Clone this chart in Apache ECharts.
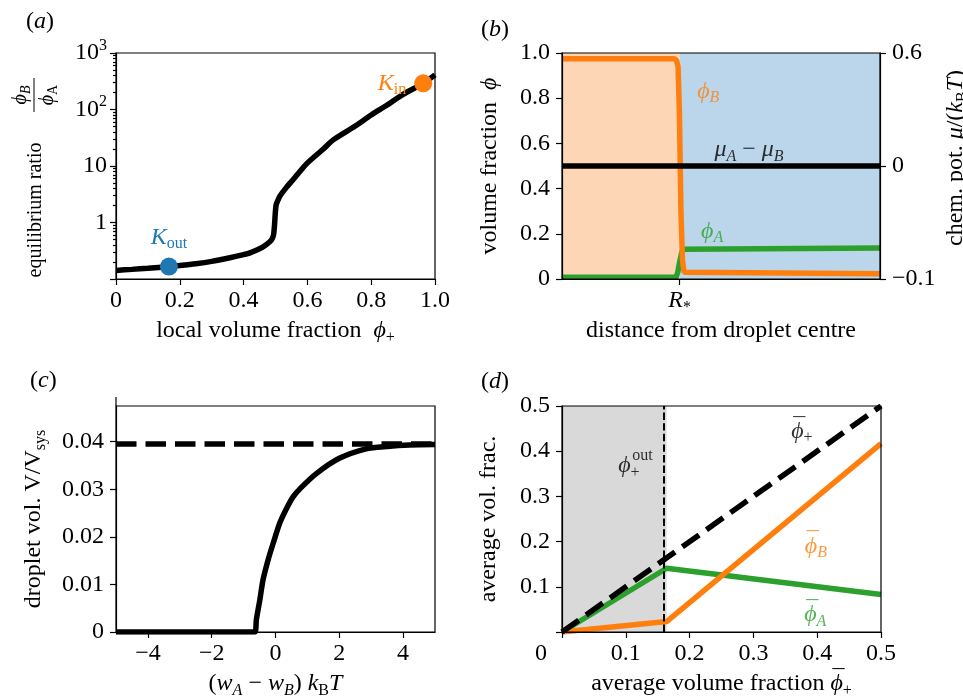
<!DOCTYPE html>
<html><head><meta charset="utf-8">
<script src="https://cdn.jsdelivr.net/npm/echarts@6/dist/echarts.min.js"></script>
<style>html,body{margin:0;padding:0;background:#fff}#c{width:963px;height:699px}</style>
</head><body><div id="c"></div>
<script>
// ================= DATA =================
// (a) equilibrium ratio vs local volume fraction
const phiLocal = [0, 0.05, 0.1, 0.166, 0.2, 0.25, 0.3, 0.357, 0.4, 0.42, 0.461, 0.483, 0.49, 0.494, 0.497, 0.499, 0.502, 0.508, 0.514, 0.533, 0.555, 0.598, 0.65, 0.681, 0.75, 0.8, 0.85, 0.9, 0.963, 1.0];
const ratioEq  = [0.142, 0.148, 0.155, 0.166, 0.173, 0.186, 0.205, 0.238, 0.27, 0.29, 0.37, 0.46, 0.52, 0.61, 0.91, 1.37, 2.05, 2.5, 2.95, 4.1, 5.7, 11, 20, 29, 51, 80, 120, 186, 290, 410];
const kOutPoint = [0.166, 0.166];
const kInPoint  = [0.963, 290];
const ratioMajorLabels = {1: '1', 10: '10', 100: '10{sup|2}', 1000: '10{sup|3}'};
const ratioMinor = [0.2,0.3,0.4,0.5,0.6,0.7,0.8,0.9, 2,3,4,5,6,7,8,9, 20,30,40,50,60,70,80,90, 200,300,400,500,600,700,800,900];

// (b) profiles across droplet interface
const rStar = 0.37;
const rB = [0, 0.352, 0.36, 0.365, 0.369, 0.374, 0.379, 0.384, 0.39, 1];
const phiBProfile = [0.975, 0.975, 0.968, 0.94, 0.75, 0.3, 0.08, 0.03, 0.023, 0.023];
const rA = [0, 0.359, 0.364, 0.37, 0.376, 0.381, 0.387, 1];
const phiAProfile = [0.008, 0.008, 0.03, 0.075, 0.115, 0.132, 0.137, 0.137];
const rMu = [0, 1];
const muLevel = [0.5, 0.5];
const chemTickPos = [0, 0.5, 1];
const chemTickLabels = ['\u22120.1', '0', '0.6'];

// (c) droplet volume vs (wA - wB)
const wDiff   = [-5, -0.65, -0.6, -0.49, -0.39, -0.23, -0.07, 0.134, 0.35, 0.55, 0.81, 1.28, 2.0, 2.84, 3.5, 4.2, 5.0];
const dropVol = [0, 0, 0.0026, 0.0068, 0.011, 0.0152, 0.0187, 0.0229, 0.026, 0.0284, 0.0304, 0.0333, 0.0365, 0.0385, 0.039, 0.0393, 0.0394];
const wSat = [-5, 5];
const volSat = [0.0395, 0.0395];
const wTicks = [-4, -2, 0, 2, 4];
const volTicks = [0, 0.01, 0.02, 0.03, 0.04];

// (d) average fractions
const phiAvg = [0, 0.164, 0.5];
const phiABar = [0, 0.141, 0.083];
const phiBBar = [0, 0.023, 0.417];
const phiPlusX = [0, 0.5];
const phiPlusY = [0, 0.5];
const phiOut = 0.164;

// ================= STYLE =================
const F = "'Liberation Serif', 'DejaVu Serif', serif";
const FS = 24, SFS = 16;
const BLUE = '#1f77b4', ORANGE = '#ff7f0e', GREEN = '#2ca02c';
const LW = 5.5;

// measure macron width so the overbar can be placed over the next glyph
const _cv = document.createElement('canvas').getContext('2d');
function textW(font, t) { _cv.font = font; return _cv.measureText(t).width; }

function rich(color, fs, sfs) {
  color = color || '#000'; fs = fs || FS; sfs = sfs || SFS;
  const dn = Math.round(fs * 0.54), up = Math.round(fs * 0.62);
  const bw = textW(fs + 'px ' + F, '\u00af'), dx = 2;
  return {
    i:   {fontStyle: 'italic', fontFamily: F, fontSize: fs, color: color},
    sub: {fontFamily: F, fontSize: sfs, lineHeight: sfs, padding: [dn, 0, 0, 0], color: color},
    isub:{fontFamily: F, fontSize: sfs, lineHeight: sfs, padding: [dn, 0, 0, 0], fontStyle: 'italic', color: color},
    sup: {fontFamily: F, fontSize: sfs, lineHeight: sfs, padding: [0, 0, up, 0], color: color},
    bar: {fontFamily: F, fontSize: fs, lineHeight: fs, padding: [0, -(bw + dx), 9, dx], color: color}
  };
}
function zrich(color, fs, sfs) {
  const r = rich(color, fs, sfs), out = {};
  for (const k in r) { const s = Object.assign({}, r[k]); s.fill = s.color; delete s.color; out[k] = s; }
  return out;
}
function merge(a, b) {
  const o = Object.assign({}, a);
  for (const k in b) {
    const v = b[k];
    if (v && typeof v === 'object' && !Array.isArray(v) && o[k] && typeof o[k] === 'object' && !Array.isArray(o[k])) o[k] = merge(o[k], v);
    else o[k] = v;
  }
  return o;
}
function axisBase(o) {
  return merge({
    type: 'value',
    axisLine: {show: true, onZero: false, lineStyle: {color: '#000', width: 1.2}},
    axisTick: {show: true, inside: false, length: 6, lineStyle: {color: '#000', width: 1.2}},
    axisLabel: {color: '#000', fontFamily: F, fontSize: FS, margin: 10, rich: rich()},
    splitLine: {show: false},
    nameLocation: 'middle',
    nameTextStyle: {color: '#000', fontFamily: F, fontSize: FS, rich: rich()},
    nameMoveOverlap: false,
    z: 10
  }, o);
}
const zip = (xs, ys) => xs.map((x, i) => [x, ys[i]]);
const fmt1 = v => v === 0 ? '0' : v.toFixed(1);
const minus = v => v < 0 ? '\u2212' + (-v) : String(v);
const OB = '{bar|\u00af}';

function note(xi, yi, pt, text, color, extra) {
  return {
    type: 'scatter', xAxisIndex: xi, yAxisIndex: yi, data: [pt], symbolSize: 0, silent: true, z: 20,
    label: Object.assign({show: true, position: 'inside', formatter: text, color: color,
      fontFamily: F, fontSize: FS, rich: rich(color)}, extra || {})
  };
}

const gridBase = {show: true, borderColor: '#000', borderWidth: 1.2, backgroundColor: 'transparent',
  containLabel: false, outerBoundsMode: 'none', z: 10};

const option = {
  animation: false,
  backgroundColor: '#fff',
  textStyle: {fontFamily: F, fontSize: FS, color: '#000'},
  grid: [
    Object.assign({left: 116, top: 53, width: 319, height: 226}, gridBase),
    Object.assign({left: 562, top: 53, width: 318, height: 226}, gridBase),
    Object.assign({left: 116, top: 406, width: 319, height: 226}, gridBase),
    Object.assign({left: 562, top: 406, width: 319, height: 226}, gridBase)
  ],
  xAxis: [
    axisBase({gridIndex: 0, min: 0, max: 1, interval: 0.2, axisLabel: {formatter: fmt1},
      name: 'local volume fraction  {i|\u03d5}{sub|+}', nameGap: 40}),
    axisBase({gridIndex: 1, min: 0, max: 1, axisTick: {customValues: [rStar]},
      axisLabel: {customValues: [rStar], formatter: () => '{i|R}{sub|*}'},
      name: 'distance from droplet centre', nameGap: 40}),
    axisBase({gridIndex: 2, min: -5, max: 5, axisTick: {customValues: wTicks},
      axisLabel: {customValues: wTicks, formatter: minus},
      name: '({i|w}{isub|A} \u2212 {i|w}{isub|B}) {i|k}{sub|B}{i|T}', nameGap: 40}),
    axisBase({gridIndex: 3, min: 0, max: 0.5, interval: 0.1,
      axisLabel: {formatter: v => v === 0 ? '{z|0}' : v.toFixed(1),
        rich: Object.assign(rich(), {z: {fontFamily: F, fontSize: FS, color: '#000', padding: [0, 42, 0, 0]}})},
      name: 'average volume fraction ' + OB + '{i|\u03d5}{sub|+}', nameGap: 40})
  ],
  yAxis: [
    axisBase({type: 'log', logBase: 10, gridIndex: 0, min: 0.1, max: 1000,
      axisLabel: {margin: 9, formatter: v => ratioMajorLabels[Math.round(v * 1000) / 1000] || ''}}),
    axisBase({gridIndex: 0, position: 'left', min: -1, max: 3, axisLine: {show: false}, axisLabel: {show: false},
      axisTick: {length: 3, customValues: ratioMinor.map(Math.log10)}}),
    axisBase({gridIndex: 1, min: 0, max: 1, interval: 0.2, axisLabel: {formatter: fmt1, margin: 12},
      name: 'volume fraction  {i|\u03d5}', nameGap: 60, nameRotate: 90}),
    axisBase({gridIndex: 1, position: 'right', min: 0, max: 1,
      axisTick: {customValues: chemTickPos},
      axisLabel: {customValues: chemTickPos, margin: 12,
        formatter: v => chemTickLabels[chemTickPos.indexOf(v)]},
      name: 'chem. pot. {i|\u03bc}/({i|k}{sub|B}{i|T})', nameGap: 64, nameRotate: 90,
      nameTextStyle: {padding: [0, 0, 0, 16]}}),
    axisBase({gridIndex: 2, min: 0, max: 0.0475, axisTick: {customValues: volTicks},
      axisLabel: {customValues: volTicks, margin: 12, formatter: v => v === 0 ? '0' : v.toFixed(2)},
      name: 'droplet vol. V/V{sub|sys}', nameGap: 70, nameRotate: 90}),
    axisBase({gridIndex: 3, min: 0, max: 0.5, interval: 0.1,
      axisLabel: {margin: 12, formatter: v => v === 0 ? '' : v.toFixed(1)},
      name: 'average vol. frac.', nameGap: 61, nameRotate: 90})
  ],
  series: [
    // ---- (a)
    {type: 'line', xAxisIndex: 0, yAxisIndex: 0, data: zip(phiLocal, ratioEq), symbol: 'none',
      smooth: 0.25, lineStyle: {color: '#000', width: LW}, z: 3},
    {type: 'scatter', xAxisIndex: 0, yAxisIndex: 0, data: [kOutPoint], symbolSize: 18, z: 4,
      itemStyle: {color: BLUE, opacity: 1},
      label: {show: true, position: 'top', distance: 8, formatter: '{i|K}{sub|out}', color: BLUE, rich: rich(BLUE)}},
    {type: 'scatter', xAxisIndex: 0, yAxisIndex: 0, data: [kInPoint], symbolSize: 18, z: 4,
      itemStyle: {color: ORANGE, opacity: 1},
      label: {show: true, position: 'left', distance: 8, formatter: '{i|K}{sub|in}', color: ORANGE, rich: rich(ORANGE)}},
    // ---- (b)
    {type: 'line', xAxisIndex: 1, yAxisIndex: 2, data: zip(rA, phiAProfile), symbol: 'none',
      lineStyle: {color: GREEN, width: LW}, z: 3,
      markArea: {silent: true, data: [
        [{xAxis: 0, itemStyle: {color: '#fdd7b5'}}, {xAxis: rStar}],
        [{xAxis: rStar, itemStyle: {color: '#bbd6ea'}}, {xAxis: 1}]
      ]}},
    {type: 'line', xAxisIndex: 1, yAxisIndex: 2, data: zip(rB, phiBProfile), symbol: 'none',
      lineStyle: {color: ORANGE, width: LW}, z: 4},
    {type: 'line', xAxisIndex: 1, yAxisIndex: 2, data: zip(rMu, muLevel), symbol: 'none',
      lineStyle: {color: '#000', width: LW}, z: 5},
    note(1, 2, [0.46, 0.83], '{i|\u03d5}{isub|B}', ORANGE),
    note(1, 2, [0.588, 0.571], '{i|\u03bc}{isub|A} \u2212 {i|\u03bc}{isub|B}', '#000'),
    note(1, 2, [0.472, 0.209], '{i|\u03d5}{isub|A}', GREEN),
    // ---- (c)
    {type: 'line', xAxisIndex: 2, yAxisIndex: 4, data: zip(wSat, volSat), symbol: 'none',
      lineStyle: {color: '#000', width: LW, type: [20.5, 9], cap: 'butt'}, z: 3},
    {type: 'line', xAxisIndex: 2, yAxisIndex: 4, data: zip(wDiff, dropVol), symbol: 'none',
      smooth: 0.25, lineStyle: {color: '#000', width: LW}, z: 4},
    // ---- (d)
    {type: 'line', xAxisIndex: 3, yAxisIndex: 5, data: zip(phiAvg, phiABar), symbol: 'none',
      lineStyle: {color: GREEN, width: LW}, z: 3,
      markArea: {silent: true, data: [[{xAxis: 0, itemStyle: {color: '#d9d9d9'}}, {xAxis: phiOut}]]}},
    {type: 'line', xAxisIndex: 3, yAxisIndex: 5, data: zip(phiAvg, phiBBar), symbol: 'none',
      lineStyle: {color: ORANGE, width: LW}, z: 4},
    {type: 'line', xAxisIndex: 3, yAxisIndex: 5, data: zip(phiPlusX, phiPlusY), symbol: 'none',
      lineStyle: {color: '#000', width: LW, type: [20.5, 9], cap: 'butt'}, z: 5,
      markLine: {silent: true, symbol: 'none', label: {show: false},
        lineStyle: {color: '#000', width: 2, type: [7.4, 3.2]}, data: [{xAxis: phiOut}]}},
    note(3, 5, [0.376, 0.443], OB + '{i|\u03d5}{sub|+}', '#000'),
    note(3, 5, [0.088, 0.367], '{i|\u03d5}{sub|+}', '#000', {align: 'left'}),
    note(3, 5, [0.088, 0.367], 'out', '#000', {align: 'left', offset: [14, -10], fontSize: SFS}),
    note(3, 5, [0.398, 0.189], OB + '{i|\u03d5}{isub|B}', ORANGE),
    note(3, 5, [0.397, 0.038], OB + '{i|\u03d5}{isub|A}', GREEN)
  ],
  graphic: [
    {type: 'text', x: 26, y: 22, style: {text: '({i|a})', fontFamily: F, fontSize: FS, fill: '#000', verticalAlign: 'middle', rich: zrich()}},
    {type: 'text', x: 481, y: 30, style: {text: '({i|b})', fontFamily: F, fontSize: FS, fill: '#000', verticalAlign: 'middle', rich: zrich()}},
    {type: 'text', x: 30, y: 381, style: {text: '({i|c})', fontFamily: F, fontSize: FS, fill: '#000', verticalAlign: 'middle', rich: zrich()}},
    {type: 'text', x: 481, y: 382, style: {text: '({i|d})', fontFamily: F, fontSize: FS, fill: '#000', verticalAlign: 'middle', rich: zrich()}},
    {type: 'line', shape: {x1: 116, y1: 397, x2: 116, y2: 406}, style: {stroke: '#000', lineWidth: 1.2}},
    {type: 'group', x: 36, y: 210, rotation: Math.PI / 2, children: [
      {type: 'text', x: 0, y: 0, style: {text: 'equilibrium ratio', fontFamily: F, fontSize: 20, fill: '#000', align: 'center', verticalAlign: 'middle'}},
      {type: 'text', x: 115, y: -15, style: {text: '{i|\u03d5}{isub|B}', fontFamily: F, fontSize: 20, fill: '#000', align: 'center', verticalAlign: 'middle', rich: zrich('#000', 20, 14)}},
      {type: 'line', shape: {x1: 98, y1: -2, x2: 132, y2: -2}, style: {stroke: '#000', lineWidth: 1}},
      {type: 'text', x: 115, y: 12, style: {text: '{i|\u03d5}{sub|A}', fontFamily: F, fontSize: 20, fill: '#000', align: 'center', verticalAlign: 'middle', rich: zrich('#000', 20, 14)}}
    ]}
  ]
};

const chart = echarts.init(document.getElementById('c'), null, {renderer: 'canvas'});
chart.setOption(option);
</script>
</body></html>
